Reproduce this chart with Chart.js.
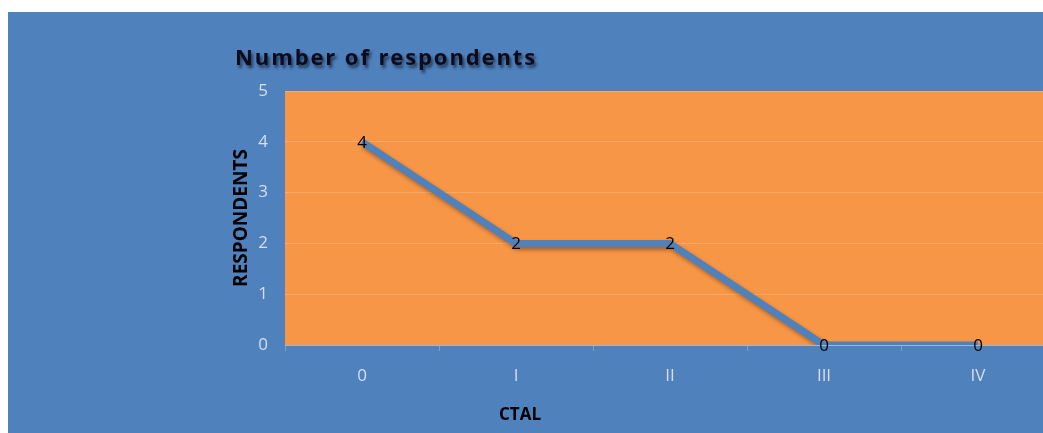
<!DOCTYPE html>
<html>
<head>
<meta charset="utf-8">
<script src="https://cdn.jsdelivr.net/npm/chart.js@4.4.1/dist/chart.umd.min.js"></script>
<style>
  html, body { margin: 0; padding: 0; background: #fff; overflow: hidden; }
  #wrap { position: absolute; left: 8px; top: 12px; width: 1100px; height: 421px; background: #4f81bd; }
</style>
</head>
<body>
<div id="wrap"><canvas id="respondents-chart" width="1100" height="421"></canvas></div>
<script>
  // chart data
  const chartTitle = 'Number of respondents';
  const categories = ['0', 'I', 'II', 'III', 'IV'];
  const respondents = [4, 2, 2, 0, 0];
  const yTicks = [0, 1, 2, 3, 4, 5];
  const xTitle = 'CTAL';
  const yTitle = 'RESPONDENTS';

  const blue = '#4f81bd';
  const orange = '#f79646';
  const tickColor = '#d6dfec';
  const fontFamily = '"Open Sans", "DejaVu Sans", sans-serif';

  const ctx = document.getElementById('respondents-chart');

  // orange plot area + titles + value labels
  const decor = {
    id: 'decor',
    beforeDraw: function (chart) {
      const a = chart.chartArea;
      const c = chart.ctx;
      c.save();
      c.fillStyle = orange;
      c.fillRect(a.left, a.top, a.right - a.left, a.bottom - a.top);
      c.restore();
    },
    afterDraw: function (chart) {
      const c = chart.ctx;
      c.save();
      // main title with shadow
      c.font = 'bold 22px ' + fontFamily;
      c.letterSpacing = '1.9px';
      c.textBaseline = 'middle';
      c.textAlign = 'left';
      c.shadowColor = 'rgba(0,0,0,0.55)';
      c.shadowOffsetX = 2;
      c.shadowOffsetY = 3;
      c.shadowBlur = 3;
      c.fillStyle = '#0b0b1e';
      c.fillText(chartTitle, 227, 47);
      c.restore();

      // x axis title
      c.save();
      c.font = 'bold 17px ' + fontFamily;
      c.fillStyle = '#000';
      c.textAlign = 'center';
      c.textBaseline = 'middle';
      c.fillText(xTitle, 512, 403);
      c.restore();

      // value labels
      const meta = chart.getDatasetMeta(0);
      c.save();
      c.font = '17px ' + fontFamily;
      c.fillStyle = '#000';
      c.textAlign = 'center';
      c.textBaseline = 'middle';
      meta.data.forEach(function (pt, i) {
        c.fillText(String(respondents[i]), pt.x, pt.y + 1);
      });
      c.restore();
    }
  };

  const lineShadow = {
    id: 'lineShadow',
    beforeDatasetDraw: function (chart) {
      const c = chart.ctx;
      c.save();
      c.shadowColor = 'rgba(0,0,0,0.35)';
      c.shadowOffsetX = 2;
      c.shadowOffsetY = 3;
      c.shadowBlur = 4;
    },
    afterDatasetDraw: function (chart) {
      chart.ctx.restore();
    }
  };

  new Chart(ctx, {
    type: 'line',
    data: {
      labels: categories,
      datasets: [{
        label: 'Respondents',
        data: respondents,
        borderColor: blue,
        backgroundColor: blue,
        borderWidth: 7,
        pointRadius: 0,
        tension: 0,
        fill: false
      }]
    },
    options: {
      responsive: false,
      animation: false,
      layout: {
        padding: { left: 222, top: 79, right: 53, bottom: 0 }
      },
      scales: {
        x: {
          offset: true,
          grid: {
            offset: true,
            drawOnChartArea: false,
            drawTicks: true,
            tickLength: 6,
            color: 'rgba(255,255,255,0.25)'
          },
          border: { display: true, color: 'rgba(255,255,255,0.3)' },
          ticks: {
            color: tickColor,
            font: { family: fontFamily, size: 17 },
            padding: 15
          },
          afterFit: function (scale) { scale.height = 88; }
        },
        y: {
          min: yTicks[0],
          max: yTicks[yTicks.length - 1],
          afterBuildTicks: function (scale) {
            scale.ticks = yTicks.map(function (v) { return { value: v }; });
          },
          grid: {
            drawTicks: false,
            color: 'rgba(255,255,255,0.18)',
            lineWidth: 1
          },
          border: { display: false },
          ticks: {
            color: tickColor,
            font: { family: fontFamily, size: 17 },
            padding: 17
          },
          title: {
            display: true,
            text: yTitle,
            color: '#000',
            font: { family: fontFamily, size: 19, weight: 'bold' },
            padding: { top: 0, bottom: 0 }
          },
          afterFit: function (scale) { scale.width = 55; }
        }
      },
      plugins: {
        legend: { display: false },
        tooltip: { enabled: false }
      }
    },
    plugins: [decor, lineShadow]
  });
</script>
</body>
</html>
